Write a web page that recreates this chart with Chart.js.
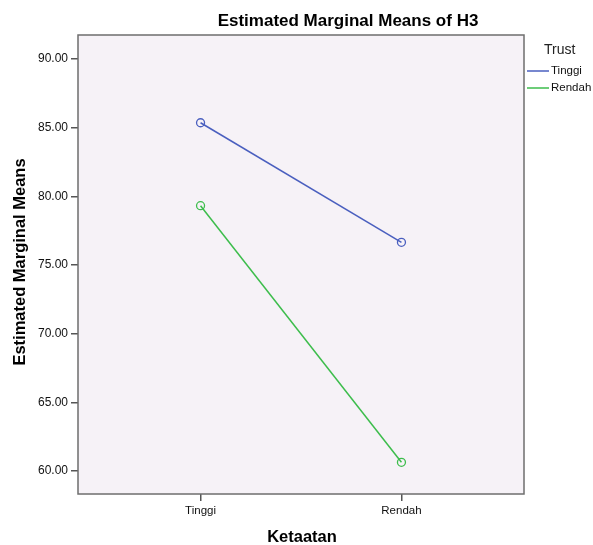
<!DOCTYPE html>
<html>
<head>
<meta charset="utf-8">
<script src="https://cdn.jsdelivr.net/npm/chart.js@4/dist/chart.umd.min.js"></script>
<style>
  body { margin: 0; background: #fff; }
  canvas { display: block; }
</style>
</head>
<body>
<canvas id="emmChart" width="593" height="545"></canvas>
<script>
// data
const categories = ['Tinggi', 'Rendah'];       // Ketaatan
const seriesNames = ['Tinggi', 'Rendah'];      // Trust
const tinggiValues = [85.36, 76.65];
const rendahValues = [79.32, 60.63];
const yTicks = [60, 65, 70, 75, 80, 85, 90];
const seriesColors = ['#4a5fbf', '#3dbd4c'];

const FONT = '"Liberation Sans", Arial, sans-serif';
const ctx = document.getElementById('emmChart').getContext('2d');

// draws background, frame, titles and legend
const decorPlugin = {
  id: 'decor',
  beforeDraw(chart) {
    const c = chart.ctx, a = chart.chartArea;
    c.save();
    c.fillStyle = '#ffffff';
    c.fillRect(0, 0, chart.width, chart.height);
    c.fillStyle = '#f6f2f7';
    c.fillRect(a.left, a.top, a.right - a.left, a.bottom - a.top);
    c.restore();
  },
  afterDraw(chart) {
    const c = chart.ctx, a = chart.chartArea;
    c.save();
    // frame
    c.strokeStyle = '#6e6e6e';
    c.lineWidth = 1.5;
    c.strokeRect(a.left, a.top, a.right - a.left, a.bottom - a.top);

    c.fillStyle = '#000';
    c.textBaseline = 'middle';
    // title
    c.font = 'bold 17px ' + FONT;
    c.textAlign = 'center';
    c.fillText('Estimated Marginal Means of H3', 348, 21);
    // x axis title
    c.font = 'bold 16.5px ' + FONT;
    c.fillText('Ketaatan', 302, 537);
    // y axis title
    c.save();
    c.translate(20, 262);
    c.rotate(-Math.PI / 2);
    c.fillText('Estimated Marginal Means', 0, 0);
    c.restore();

    // legend
    c.textAlign = 'left';
    c.font = '14px ' + FONT;
    c.fillStyle = '#222';
    c.fillText('Trust', 544, 50);
    c.font = '11.5px ' + FONT;
    chart.data.datasets.forEach((ds, i) => {
      const y = 71 + i * 17;
      c.strokeStyle = ds.borderColor;
      c.lineWidth = 1.5;
      c.beginPath();
      c.moveTo(527, y);
      c.lineTo(549, y);
      c.stroke();
      c.fillStyle = '#111';
      c.fillText(ds.label, 551, y);
    });
    c.restore();
  }
};

const allSeries = [tinggiValues, rendahValues];

const data = {
  datasets: seriesNames.map((name, i) => ({
    label: name,
    data: allSeries[i].map((v, j) => ({ x: j + 1, y: v })),
    borderColor: seriesColors[i],
    backgroundColor: 'rgba(0,0,0,0)',
    pointBackgroundColor: 'rgba(0,0,0,0)',
    pointBorderColor: seriesColors[i],
    pointRadius: 4,
    pointBorderWidth: 1.3,
    borderWidth: 1.5,
    tension: 0
  }))
};

const config = {
  type: 'line',
  data: data,
  options: {
    responsive: false,
    animation: false,
    layout: { padding: { left: 0, top: 35, right: 69, bottom: 0 } },
    plugins: {
      legend: { display: false },
      title: { display: false },
      tooltip: { enabled: false }
    },
    scales: {
      x: {
        type: 'linear',
        min: 0.39,
        max: 2.61,
        afterBuildTicks: s => { s.ticks = categories.map((c, i) => ({ value: i + 1 })); },
        afterFit: s => { s.height = 51; },
        grid: { drawOnChartArea: false, drawTicks: true, tickLength: 7, color: '#555', lineWidth: 1.5 },
        border: { display: false },
        ticks: {
          padding: 3,
          color: '#111',
          font: { family: FONT, size: 11.5 },
          maxRotation: 0,
          callback: v => categories[v - 1]
        }
      },
      y: {
        min: 58.32,
        max: 91.75,
        afterBuildTicks: s => { s.ticks = yTicks.map(v => ({ value: v })); },
        afterFit: s => { s.width = 78; },
        grid: { drawOnChartArea: false, drawTicks: true, tickLength: 7, color: '#555', lineWidth: 1.5 },
        border: { display: false },
        ticks: {
          padding: 3,
          color: '#111',
          font: { family: FONT, size: 12 },
          callback: v => v.toFixed(2)
        }
      }
    }
  },
  plugins: [decorPlugin]
};

const myChart = new Chart(ctx, config);
</script>
</body>
</html>
